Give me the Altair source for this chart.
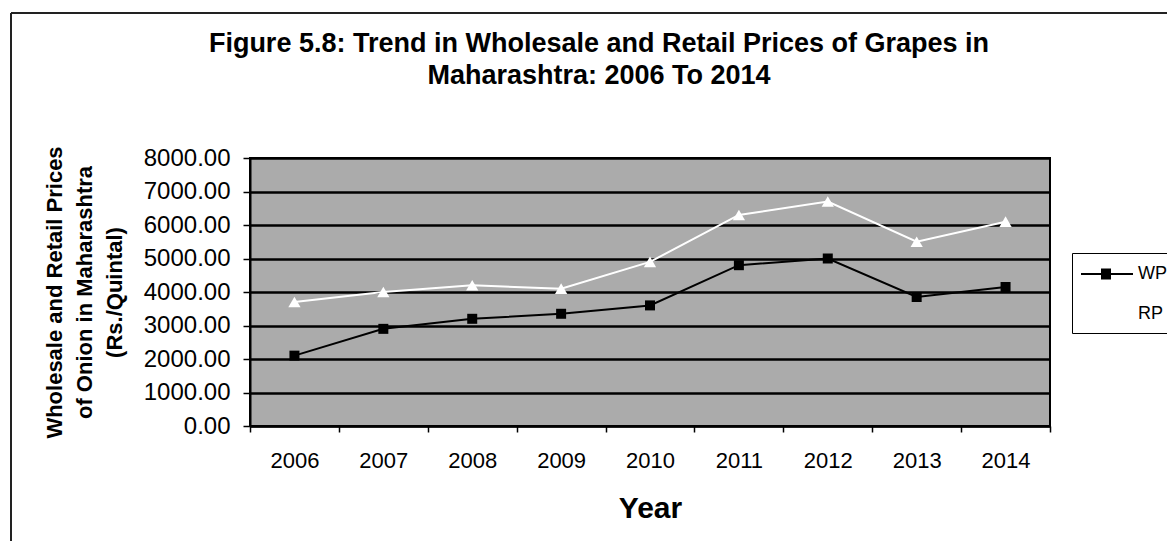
import altair as alt
import pandas as pd

years = ["2006", "2007", "2008", "2009", "2010", "2011", "2012", "2013", "2014"]
wp = [2100, 2900, 3200, 3350, 3600, 4800, 5000, 3850, 4150]
rp = [3700, 4000, 4200, 4100, 4900, 6300, 6700, 5500, 6100]
series = ["WP", "RP"]
y_ticks = [0, 1000, 2000, 3000, 4000, 5000, 6000, 7000, 8000]

FONT = "Liberation Sans"

df = pd.DataFrame({
    "Year": years * 2,
    "Price": wp + rp,
    "Series": ["WP"] * len(years) + ["RP"] * len(years),
})

x_enc = alt.X(
    "Year:N", sort=years,
    scale=alt.Scale(type="band", paddingInner=0, paddingOuter=0),
    axis=alt.Axis(
        title="Year", titleFont=FONT, titleFontSize=30, titleFontWeight="bold",
        titleColor="black", titleY=91, titleBaseline="alphabetic",
        labelFont=FONT, labelFontSize=22, labelColor="black", labelAngle=0,
        labelBaseline="alphabetic", labelPadding=35,
        tickBand="extent", tickSize=6, tickColor="black", tickWidth=1.5,
        domainColor="black", domainWidth=2, grid=False,
    ),
)
y_enc = alt.Y(
    "Price:Q",
    scale=alt.Scale(domain=[0, 8000], nice=False),
    axis=alt.Axis(
        title=["Wholesale and Retail Prices", "of Onion in Maharashtra", "(Rs./Quintal)"],
        titleFont=FONT, titleFontSize=22, titleFontWeight="bold", titleColor="black",
        titleLineHeight=30, titleAngle=270, titleBaseline="bottom",
        titleX=-184, titleY=134, titleAlign="center",
        labelFont=FONT, labelFontSize=24, labelColor="black", labelPadding=13,
        labelOverlap=False,
        format=".2f", values=y_ticks, tickCount=9,
        tickSize=7, tickColor="black", tickWidth=1.5,
        domainColor="black", domainWidth=2,
        grid=True, gridColor="black", gridWidth=2.5, gridOpacity=1,
    ),
)

color_scale = alt.Scale(domain=series, range=["black", "white"])

legend_symbol = ("M-1.2,0H4.0"
                 "M0.8,-0.45H1.8M0.8,-0.25H1.8M0.8,-0.05H1.8"
                 "M0.8,0.15H1.8M0.8,0.35H1.8M0.8,0.45H1.8")

lines = alt.Chart(df).mark_line(strokeWidth=2).encode(
    x=x_enc, y=y_enc,
    color=alt.Color(
        "Series:N", scale=color_scale, sort=series,
        legend=alt.Legend(
            title=None, orient="none", legendX=822, legendY=95,
            labelFont=FONT, labelFontSize=18, labelColor="black",
            labelOffset=34, rowPadding=20, padding=10,
            strokeColor="black", fillColor="white",
            symbolType=legend_symbol,
            symbolSize=400, symbolStrokeWidth=2,
        ),
    ),
)

points_wp = alt.Chart(df).transform_filter(alt.datum.Series == "WP").mark_point(
    shape="square", filled=True, color="black", size=100, opacity=1
).encode(x=x_enc, y=y_enc)

points_rp = alt.Chart(df).transform_filter(alt.datum.Series == "RP").mark_point(
    shape="triangle-up", filled=True, color="white", size=150, opacity=1
).encode(x=x_enc, y=y_enc)

frame_df = pd.DataFrame({"k": [0]})
frame_top = alt.Chart(frame_df).mark_rule(color="#222222", strokeWidth=2).encode(
    x=alt.value(-239), x2=alt.value(930), y=alt.value(-145)
)
frame_left = alt.Chart(frame_df).mark_rule(color="#222222", strokeWidth=2).encode(
    x=alt.value(-239), y=alt.value(-145), y2=alt.value(400)
)

chart = alt.layer(frame_top, frame_left, lines, points_wp, points_rp).properties(
    width=800,
    height=268,
    autosize=alt.AutoSizeParams(type="none"),
    padding={"left": 242, "top": 150, "right": 117, "bottom": 115},
    title=alt.TitleParams(
        text=["Figure 5.8: Trend in Wholesale and Retail Prices of Grapes in",
              "Maharashtra: 2006 To 2014"],
        font=FONT, fontSize=27, fontWeight="bold", color="black",
        lineHeight=32, anchor="middle", frame="group", dx=-51,
        baseline="bottom", offset=-105,
    ),
).configure(
    background="white",
).configure_view(
    fill="#ababab", stroke="black", strokeWidth=2,
)

chart.save("out.html", embed_options={"renderer": "svg", "actions": False})
